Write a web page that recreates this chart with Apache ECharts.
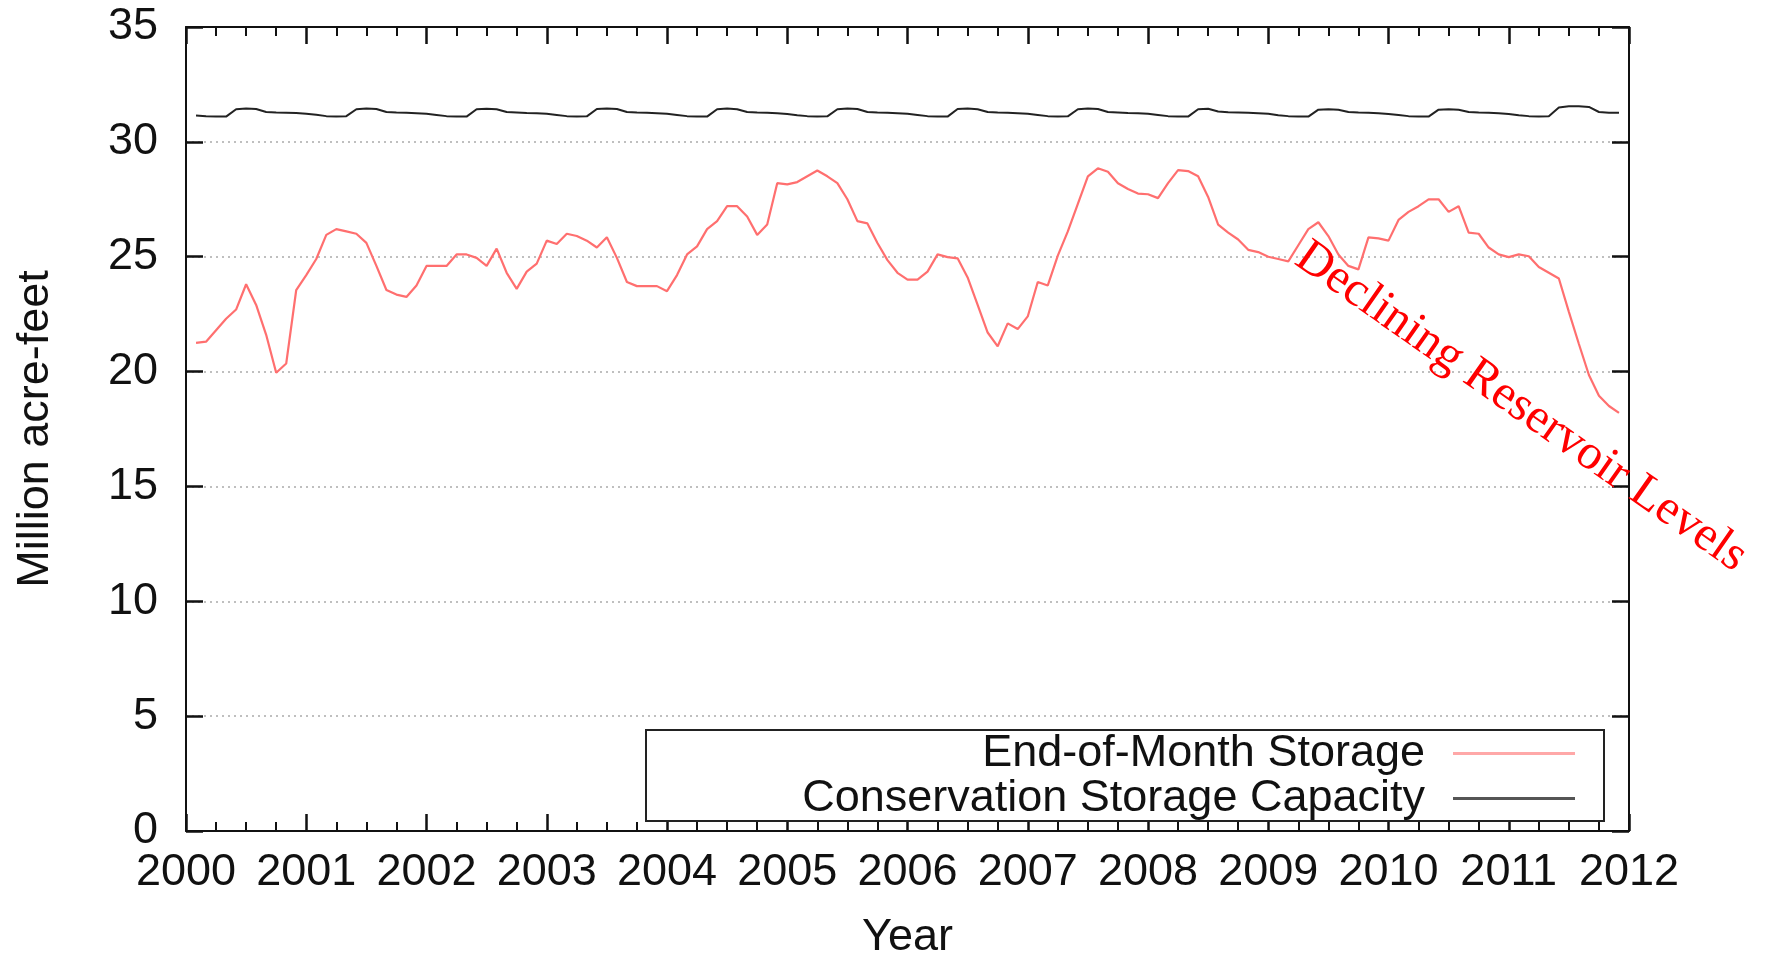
<!DOCTYPE html>
<html><head><meta charset="utf-8">
<script src="https://cdn.jsdelivr.net/npm/echarts@6/dist/echarts.min.js"></script>
<style>html,body{margin:0;padding:0;background:#fff}#c{width:1765px;height:965px}</style>
</head><body><div id="c"></div>
<script>
// ---- data ----
const xTicks = [2000, 2001, 2002, 2003, 2004, 2005, 2006, 2007, 2008, 2009, 2010, 2011, 2012];
const yTicks = [0, 5, 10, 15, 20, 25, 30, 35];
const seriesNames = ['End-of-Month Storage', 'Conservation Storage Capacity'];
const xTitle = 'Year';
const yTitle = 'Million acre-feet';
const annotationText = 'Declining Reservoir Levels';
const startYear = 2000; // first value = end of January 2000, monthly thereafter

// End-of-month storage, million acre-feet (Jan 2000 .. Nov 2011)
const storage = [
  21.25, 21.3, 21.8, 22.3, 22.7, 23.8, 22.9, 21.6, 19.95, 20.35, 23.55, 24.2,   // 2000
  24.9, 25.95, 26.2, 26.1, 26.0, 25.6, 24.6, 23.55, 23.35, 23.25, 23.75, 24.6,   // 2001
  24.6, 24.6, 25.1, 25.1, 24.95, 24.6, 25.35, 24.3, 23.6, 24.35, 24.7, 25.7,     // 2002
  25.55, 26.0, 25.9, 25.7, 25.4, 25.85, 24.95, 23.9, 23.72, 23.72, 23.72, 23.5,  // 2003
  24.2, 25.1, 25.45, 26.2, 26.55, 27.2, 27.2, 26.75, 25.95, 26.4, 28.2, 28.15,   // 2004
  28.25, 28.5, 28.75, 28.5, 28.2, 27.5, 26.55, 26.45, 25.6, 24.85, 24.3, 24.0,   // 2005
  24.0, 24.35, 25.1, 24.98, 24.93, 24.1, 22.9, 21.7, 21.1, 22.1, 21.85, 22.4,    // 2006
  23.9, 23.75, 25.05, 26.1, 27.3, 28.5, 28.85, 28.7, 28.2, 27.95, 27.75, 27.72,  // 2007
  27.55, 28.2, 28.77, 28.73, 28.5, 27.6, 26.4, 26.05, 25.75, 25.3, 25.2, 25.0,   // 2008
  24.9, 24.8, 25.5, 26.2, 26.5, 25.9, 25.1, 24.6, 24.45, 25.84, 25.8, 25.7,      // 2009
  26.6, 26.95, 27.2, 27.5, 27.5, 26.95, 27.2, 26.05, 26.0, 25.4, 25.1, 24.98,    // 2010
  25.1, 25.02, 24.55, 24.3, 24.05, 22.6, 21.2, 19.85, 18.95, 18.5, 18.2          // 2011
];

// Conservation storage capacity, million acre-feet
const capacity = [
  31.15, 31.12, 31.10, 31.10, 31.42, 31.45, 31.43, 31.30, 31.28, 31.27, 31.26, 31.22, // 2000
  31.18, 31.12, 31.10, 31.12, 31.42, 31.45, 31.43, 31.30, 31.28, 31.27, 31.25, 31.22, // 2001
  31.17, 31.12, 31.10, 31.10, 31.42, 31.44, 31.42, 31.30, 31.28, 31.26, 31.25, 31.22, // 2002
  31.17, 31.12, 31.10, 31.11, 31.43, 31.45, 31.43, 31.30, 31.28, 31.27, 31.25, 31.22, // 2003
  31.17, 31.12, 31.10, 31.10, 31.42, 31.45, 31.42, 31.30, 31.28, 31.27, 31.25, 31.21, // 2004
  31.16, 31.12, 31.10, 31.11, 31.42, 31.45, 31.43, 31.30, 31.28, 31.27, 31.25, 31.22, // 2005
  31.17, 31.12, 31.10, 31.10, 31.43, 31.45, 31.42, 31.30, 31.28, 31.27, 31.25, 31.22, // 2006
  31.17, 31.12, 31.10, 31.11, 31.42, 31.45, 31.43, 31.30, 31.28, 31.26, 31.25, 31.22, // 2007
  31.17, 31.12, 31.10, 31.10, 31.42, 31.44, 31.32, 31.29, 31.28, 31.27, 31.25, 31.22, // 2008
  31.16, 31.12, 31.10, 31.10, 31.40, 31.42, 31.40, 31.30, 31.28, 31.27, 31.25, 31.21, // 2009
  31.17, 31.12, 31.10, 31.10, 31.40, 31.42, 31.40, 31.30, 31.28, 31.27, 31.25, 31.21, // 2010
  31.16, 31.12, 31.10, 31.12, 31.50, 31.55, 31.55, 31.52, 31.30, 31.27, 31.27         // 2011
];

// ---- chart ----
const toPairs = arr => arr.map((v, i) => [startYear + (i + 1) / 12, v]);
const FONT = '"Liberation Sans", Arial, Helvetica, sans-serif';
const AX = '#111';
const FS = 45;

const chart = echarts.init(document.getElementById('c'));

function xAx(pos, showLabel) {
  return {
    type: 'value', position: pos,
    min: xTicks[0], max: xTicks[xTicks.length - 1], interval: xTicks[1] - xTicks[0],
    axisLine: { show: true, onZero: showLabel, lineStyle: { color: AX, width: 2 } },
    axisTick: { show: true, inside: true, length: 17, lineStyle: { color: AX, width: 2.5 } },
    minorTick: { show: true, splitNumber: 4, length: 9, lineStyle: { color: AX, width: 2 } },
    axisLabel: { show: showLabel, fontFamily: FONT, fontSize: FS, color: '#111', margin: 19,
                 formatter: v => String(v) },
    splitLine: { show: false },
    name: showLabel ? xTitle : '', nameLocation: 'middle', nameGap: 84,
    nameTextStyle: { fontFamily: FONT, fontSize: FS, color: '#111' }
  };
}
function yAx(pos, showLabel) {
  return {
    type: 'value', position: pos,
    min: yTicks[0], max: yTicks[yTicks.length - 1], interval: yTicks[1] - yTicks[0],
    axisLine: { show: true, lineStyle: { color: AX, width: 2 } },
    axisTick: { show: true, inside: true, length: 17, lineStyle: { color: AX, width: 2.5 } },
    axisLabel: { show: showLabel, fontFamily: FONT, fontSize: FS, color: '#111', margin: 28 },
    splitLine: { show: showLabel, lineStyle: { color: '#aaa', width: 1.5, type: [2, 4] } },
    name: showLabel ? yTitle : '', nameLocation: 'middle', nameGap: 128, nameRotate: 90,
    nameTextStyle: { fontFamily: FONT, fontSize: FS, color: '#111' }
  };
}

const legendBase = {
  orient: 'horizontal', align: 'right', padding: 0, itemWidth: 122, itemHeight: 3,
  selectedMode: false, icon: 'rect',
  textStyle: { fontFamily: FONT, fontSize: FS, color: '#111', lineHeight: 45, padding: [0, 23, 0, 0] }
};

chart.setOption({
  animation: false,
  backgroundColor: '#fff',
  grid: { left: 186, right: 136, top: 27, bottom: 130 },
  xAxis: [xAx('bottom', true), xAx('top', false)],
  yAxis: [yAx('left', true), yAx('right', false)],
  legend: [
    Object.assign({}, legendBase, { data: [{ name: seriesNames[0], itemStyle: { color: '#ffa8a8' } }],
      right: 190, top: 731 }),
    Object.assign({}, legendBase, { data: [{ name: seriesNames[1], itemStyle: { color: '#555' } }],
      right: 190, top: 776 })
  ],
  series: [
    { name: seriesNames[0], type: 'line', xAxisIndex: 0, yAxisIndex: 0, symbol: 'none',
      lineStyle: { color: '#ff6f6f', width: 2.2 }, itemStyle: { color: '#ff6f6f' },
      data: toPairs(storage), z: 3 },
    { name: seriesNames[1], type: 'line', xAxisIndex: 0, yAxisIndex: 0, symbol: 'none',
      lineStyle: { color: '#222', width: 2 }, itemStyle: { color: '#222' },
      data: toPairs(capacity), z: 3 }
  ],
  graphic: [
    { type: 'rect', z: 3, shape: { x: 646, y: 730, width: 958, height: 91 },
      style: { fill: '#fff', stroke: '#222', lineWidth: 2 } },
    { type: 'text', z: 10, x: 1521, y: 407, rotation: -35 * Math.PI / 180,
      style: { text: annotationText, fill: '#ff0000', font: '49px "Liberation Serif", "Times New Roman", serif',
               align: 'center', verticalAlign: 'middle' } }
  ]
});
</script></body></html>
